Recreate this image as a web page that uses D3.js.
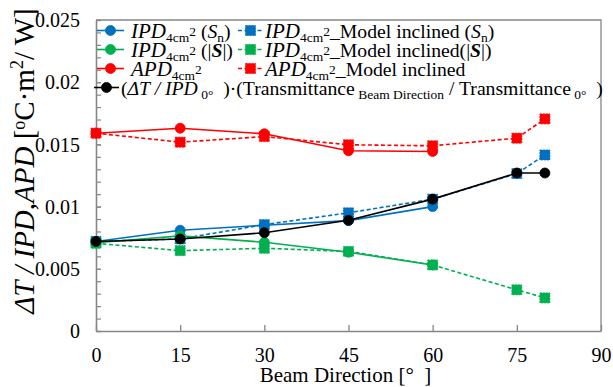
<!DOCTYPE html>
<html>
<head>
<meta charset="utf-8">
<script src="https://cdn.jsdelivr.net/npm/d3@7"></script>
<style>
  html, body { margin: 0; padding: 0; background: #fff; }
</style>
</head>
<body>
<svg id="chart" width="613" height="387"></svg>
<script>
// Beam direction (degrees) at which each series was evaluated
const anglesMeasured = [0, 15, 30, 45, 60];
const anglesModel = [0, 15, 30, 45, 60, 75, 80];

// Thermal response values [°C·m²/W]
const ipdSn       = [0.0072, 0.0081, 0.0085, 0.00887, 0.0100];
const ipdSnModel  = [0.0072, 0.0074, 0.00855, 0.0095, 0.0106, 0.01265, 0.01415];
const ipdAbs      = [0.0071, 0.00765, 0.00713, 0.00633, 0.00531];
const ipdAbsModel = [0.00705, 0.00646, 0.00665, 0.0064, 0.00531, 0.00331, 0.00266];
const apd         = [0.0159, 0.0163, 0.01585, 0.01449, 0.01443];
const apdModel    = [0.0159, 0.01518, 0.01563, 0.01497, 0.01489, 0.0155, 0.01705];
const ratioT      = [0.0072, 0.0074, 0.0079, 0.0089, 0.0106, 0.0127, 0.0127];

// Axis ticks
const xTicks = [0, 15, 30, 45, 60, 75, 90];
const yTicks = [0, 0.005, 0.01, 0.015, 0.02, 0.025];
const yTickLabels = ["0", "0.005", "0.01", "0.015", "0.02", "0.025"];

const BLUE = "#0070C0", GREEN = "#00B050", RED = "#FF0000", BLACK = "#000000";
const AXIS = "#868686";
const SERIF = "'Liberation Serif', 'Times New Roman', serif";

const series = [
  { x: anglesMeasured, y: ipdSn,       color: BLUE,  dashed: false, marker: "circle" },
  { x: anglesModel,    y: ipdSnModel,  color: BLUE,  dashed: true,  marker: "square" },
  { x: anglesMeasured, y: ipdAbs,      color: GREEN, dashed: false, marker: "circle" },
  { x: anglesModel,    y: ipdAbsModel, color: GREEN, dashed: true,  marker: "square" },
  { x: anglesMeasured, y: apd,         color: RED,   dashed: false, marker: "circle" },
  { x: anglesModel,    y: apdModel,    color: RED,   dashed: true,  marker: "square" },
  { x: anglesModel,    y: ratioT,      color: BLACK, dashed: false, marker: "circle" }
];

const svg = d3.select("#chart");
const plot = { left: 96, right: 601, top: 20, bottom: 331 };

const x = d3.scaleLinear().domain([0, 90]).range([plot.left, plot.right]);
const y = d3.scaleLinear().domain([0, 0.025]).range([plot.bottom, plot.top]);

// Frame on top and right
svg.append("path")
  .attr("d", `M${plot.left},${plot.top}H${plot.right}V${plot.bottom}`)
  .attr("fill", "none").attr("stroke", AXIS).attr("stroke-width", 1.3);

// X axis: ticks pointing inward
const xAxis = d3.axisBottom(x).tickValues(xTicks).tickSizeInner(-6).tickSizeOuter(0).tickPadding(0).tickFormat(d3.format("d"));
const gx = svg.append("g").attr("transform", `translate(0,${plot.bottom})`).call(xAxis);
gx.select(".domain").attr("stroke", AXIS).attr("stroke-width", 1.6);
gx.selectAll(".tick line").attr("stroke", AXIS).attr("stroke-width", 1.3);
gx.selectAll(".tick text").attr("y", 31).attr("dy", 0)
  .attr("font-size", 20).attr("fill", "#000")
  .style("font-family", SERIF);

// Y minor ticks every 0.001
const minor = d3.range(0, 26).map(i => i * 0.001);
const yMinorAxis = d3.axisLeft(y).tickValues(minor).tickSizeInner(-5).tickSizeOuter(0).tickFormat("");
const gym = svg.append("g").attr("transform", `translate(${plot.left},0)`).call(yMinorAxis);
gym.select(".domain").remove();
gym.selectAll(".tick line").attr("stroke", AXIS).attr("stroke-width", 1.2);

// Y axis major
const yAxis = d3.axisLeft(y).tickValues(yTicks).tickSizeInner(-5).tickSizeOuter(0).tickPadding(16)
  .tickFormat((d, i) => yTickLabels[i]);
const gy = svg.append("g").attr("transform", `translate(${plot.left},0)`).call(yAxis);
gy.select(".domain").attr("stroke", AXIS).attr("stroke-width", 1.6);
gy.selectAll(".tick line").attr("stroke", AXIS).attr("stroke-width", 1.2);
gy.selectAll(".tick text").attr("font-size", 20).attr("fill", "#000").attr("dy", "0.33em")
  .style("font-family", SERIF);

// Series lines and markers
const line = d3.line().x(d => x(d[0])).y(d => y(d[1]));

function drawMarker(g, shape, cx, cy, color) {
  if (shape === "circle") {
    g.append("circle").attr("cx", cx).attr("cy", cy).attr("r", 5)
      .attr("fill", color).attr("stroke", color).attr("stroke-width", 0.8);
  } else {
    g.append("rect").attr("x", cx - 5).attr("y", cy - 5).attr("width", 10).attr("height", 10)
      .attr("fill", color).attr("stroke", color).attr("stroke-width", 0.8)
      .attr("stroke-dasharray", "2,1");
  }
}

series.forEach(s => {
  const pts = s.x.map((a, i) => [a, s.y[i]]);
  const g = svg.append("g");
  g.append("path").attr("d", line(pts)).attr("fill", "none")
    .attr("stroke", s.color).attr("stroke-width", 1.6)
    .attr("stroke-dasharray", s.dashed ? "4,2.5" : null);
  pts.forEach(p => drawMarker(g, s.marker, x(p[0]), y(p[1]), s.color));
});

// Legend
const FS = 19.7, SUB = 13.5, NAME = 21;
function legendIcon(x0, x1, cy, s) {
  const g = svg.append("g");
  g.append("line").attr("x1", x0).attr("x2", x1).attr("y1", cy).attr("y2", cy)
    .attr("stroke", s.color).attr("stroke-width", 1.6)
    .attr("stroke-dasharray", s.dashed ? "4,2.5" : null);
  drawMarker(g, s.marker, (x0 + x1) / 2, cy, s.color);
}
// parts: [text, style] where style: i = italic, I = larger italic name, b = bold italic, sub, sup, n = normal
function legendText(x0, base, parts) {
  const t = svg.append("text").attr("x", x0).attr("y", base).attr("font-size", FS).attr("fill", "#000")
    .style("font-family", SERIF).style("white-space", "pre");
  let shift = 0;
  parts.forEach(([txt, st]) => {
    const ts = t.append("tspan").text(txt);
    let target = 0;
    if (st === "sub") { target = 4; ts.attr("font-size", SUB); }
    else if (st === "sup") { target = -2; ts.attr("font-size", SUB); }
    else if (st === "i") ts.attr("font-style", "italic");
    else if (st === "I") ts.attr("font-style", "italic").attr("font-size", NAME);
    else if (st === "b") ts.attr("font-style", "italic").attr("font-weight", "bold");
    ts.attr("dy", target - shift);
    shift = target;
  });
  return t;
}

const IPD = [["IPD", "I"], ["4cm", "sub"], ["2", "sup"]];
const APD = [["APD", "I"], ["4cm", "sub"], ["2", "sup"]];
const rowBase = [37.5, 56.5, 75.5, 94.5];
const rowMid = rowBase.map(b => b - 7);

legendIcon(97, 124, rowMid[0], series[0]);
legendText(131, rowBase[0], [...IPD, [" (", "n"], ["S", "i"], ["n", "sub"], [")", "n"]]);
legendIcon(238, 263, rowMid[0], series[1]);
legendText(265, rowBase[0], [...IPD, ["_Model inclined (", "n"], ["S", "i"], ["n", "sub"], [")", "n"]]);

legendIcon(97, 124, rowMid[1], series[2]);
legendText(131, rowBase[1], [...IPD, [" (|", "n"], ["S", "b"], ["|)", "n"]]);
legendIcon(238, 263, rowMid[1], series[3]);
legendText(265, rowBase[1], [...IPD, ["_Model inclined(|", "n"], ["S", "b"], ["|)", "n"]]);

legendIcon(97, 124, rowMid[2], series[4]);
legendText(131, rowBase[2], APD);
legendIcon(238, 263, rowMid[2], series[5]);
legendText(265, rowBase[2], [...APD, ["_Model inclined", "n"]]);

legendIcon(94, 119, rowMid[3], series[6]);
legendText(121, rowBase[3], [
  ["(", "n"], ["ΔT / IPD", "i"], [" 0°", "sub"], ["  )·(Transmittance", "n"],
  [" Beam Direction", "sub"], [" / Transmittance", "n"], [" 0°", "sub"], ["  )", "n"]
]);

// Axis titles
svg.append("text").attr("x", (plot.left + plot.right) / 2 - 3).attr("y", 382)
  .attr("text-anchor", "middle").attr("font-size", 21).attr("fill", "#000")
  .style("font-family", SERIF).style("white-space", "pre")
  .text("Beam Direction [°  ]");

const yt = svg.append("text").attr("transform", "translate(34,161) rotate(-90)")
  .attr("text-anchor", "middle").attr("font-size", 29).attr("fill", "#000")
  .style("font-family", SERIF).style("white-space", "pre");
yt.append("tspan").attr("font-style", "italic").text("ΔT / IPD,APD");
yt.append("tspan").text(" [");
yt.append("tspan").attr("font-size", 18).attr("dy", -9).text("o");
yt.append("tspan").attr("dy", 9).text("C·m");
yt.append("tspan").attr("font-size", 18).attr("dy", -11).text("2");
yt.append("tspan").attr("dy", 11).text("/ W]");
</script>
</body>
</html>
